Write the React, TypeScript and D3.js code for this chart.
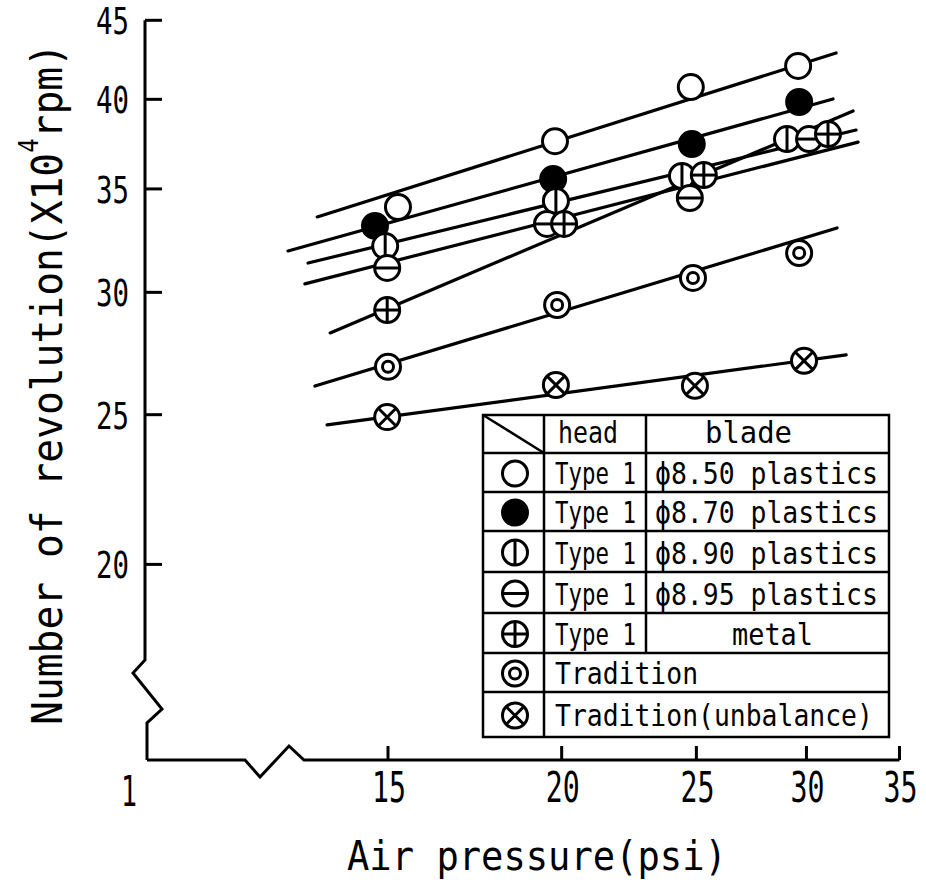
import React from 'react';
import * as d3 from 'd3';

// ---------- data ----------
const xTickValues = [15, 20, 25, 30, 35];
const xBreakLabel = '1';
const yTickValues = [20, 25, 30, 35, 40, 45];
const xTitle = 'Air pressure(psi)';
const yTitleMain = 'Number of revolution(X10';
const yTitleSup = '4';
const yTitleEnd = 'rpm)';

const legendHeadTitle = 'head';
const legendBladeTitle = 'blade';
const seriesHeads = ['Type 1', 'Type 1', 'Type 1', 'Type 1', 'Type 1', 'Tradition', 'Tradition(unbalance)'];
const seriesBlades = ['ϕ8.50 plastics', 'ϕ8.70 plastics', 'ϕ8.90 plastics', 'ϕ8.95 plastics', 'metal', '', ''];
const seriesMarkers = ['open', 'filled', 'vbar', 'hbar', 'plus', 'double', 'cross'];

const p50X = [15.25, 19.78, 24.77, 29.59];
const p50Y = [34.07, 37.58, 40.74, 42.04];
const p50Fit = [[13.34, 33.57], [31.51, 42.86]];

const p70X = [14.68, 19.72, 24.81, 29.64];
const p70Y = [33.12, 35.52, 37.42, 39.84];
const p70Fit = [[12.71, 31.91], [31.35, 40.02]];

const p90X = [14.93, 19.81, 24.41, 29.05];
const p90Y = [32.14, 34.38, 35.68, 37.7];
const p90Fit = [[13.14, 31.34], [32.57, 38.21]];

const p95X = [14.98, 19.52, 24.73, 30.13];
const p95Y = [31.11, 33.22, 34.53, 37.7];
const p95Fit = [[13.07, 30.38], [32.68, 37.53]];

const metalX = [14.98, 20.08, 25.31, 31.09];
const metalY = [29.22, 33.22, 35.73, 37.98];
const metalFit = [[13.63, 28.24], [32.41, 39.31]];

const tradX = [15.0, 19.85, 24.86, 29.64];
const tradY = [26.85, 29.44, 30.65, 31.81];
const tradFit = [[13.29, 26.09], [31.56, 33.02]];

const unbalX = [14.98, 19.81, 24.94, 29.88];
const unbalY = [24.91, 26.13, 26.1, 27.09];
const unbalFit = [[13.56, 24.62], [32.04, 27.33]];

const seriesX = [p50X, p70X, p90X, p95X, metalX, tradX, unbalX];
const seriesY = [p50Y, p70Y, p90Y, p95Y, metalY, tradY, unbalY];
const seriesFit = [p50Fit, p70Fit, p90Fit, p95Fit, metalFit, tradFit, unbalFit];

// ---------- layout ----------
const W = 926;
const H = 883;
const FONT = '"DejaVu Sans Mono", monospace';
const ADV = 0.602; // DejaVu Sans Mono advance per em
const axisLeft = 145;
const axisBottom = 760;
const R = 12.5;

const xScale = d3.scaleLog().domain([15, 35]).range([388, 899.5]);
const yScale = d3.scaleLog().domain([20, 45]).range([564.4, 20.3]);

const legLeft = 483;
const legRight = 889;
const legCol1 = 544;
const legCol2 = 646;
const legRows = [415, 453, 492, 531, 572, 613, 653, 692, 737];

// text squeezed horizontally to a target width
function NText({
  x,
  y,
  width,
  fontSize,
  anchor = 'start',
  children,
}: {
  x: number;
  y: number;
  width: number;
  fontSize: number;
  anchor?: string;
  children: string;
}) {
  const natural = children.length * ADV * fontSize;
  const sx = width / natural;
  return (
    <text transform={`translate(${x},${y}) scale(${sx.toFixed(4)},1)`} fontSize={fontSize} textAnchor={anchor}>
      {children}
    </text>
  );
}

function Marker({ type, cx, cy }: { type: string; cx: number; cy: number }) {
  const sw = 3;
  const d = R * 0.7071;
  return (
    <g transform={`translate(${cx},${cy})`} stroke="#000" strokeWidth={sw}>
      <circle r={R} fill={type === 'filled' ? '#000' : '#fff'} />
      {(type === 'vbar' || type === 'plus') && <line x1={0} y1={-R} x2={0} y2={R} />}
      {(type === 'hbar' || type === 'plus') && <line x1={-R} y1={0} x2={R} y2={0} />}
      {type === 'double' && <circle r={5.5} fill="#fff" />}
      {type === 'cross' && (
        <>
          <line x1={-d} y1={-d} x2={d} y2={d} />
          <line x1={-d} y1={d} x2={d} y2={-d} />
        </>
      )}
    </g>
  );
}

export default function App() {
  const lineGen = d3
    .line<number[]>()
    .x((p) => xScale(p[0]))
    .y((p) => yScale(p[1]));

  const yAxisPath = d3.line()([
    [axisLeft, yScale(45)],
    [axisLeft, 660],
    [133, 673],
    [162, 709],
    [147, 723],
    [147, axisBottom],
  ] as [number, number][]);
  const xAxisPath = d3.line()([
    [147, axisBottom],
    [245, axisBottom],
    [260, 777],
    [289, 746],
    [304, axisBottom],
    [xScale(35), axisBottom],
  ] as [number, number][]);

  const yTitleFs = 43;
  const yTitleWidth = 682;
  const yNatural = (yTitleMain.length + yTitleEnd.length) * ADV * yTitleFs + ADV * 26;
  const ySx = yTitleWidth / yNatural;

  return (
    <svg
      width={W}
      height={H}
      viewBox={`0 0 ${W} ${H}`}
      style={{ position: 'absolute', left: 0, top: 0, background: '#fff' }}
      fontFamily={FONT}
    >
      <rect x={0} y={0} width={W} height={H} fill="#fff" />

      {/* axes */}
      <path d={yAxisPath || ''} fill="none" stroke="#000" strokeWidth={3} strokeLinejoin="miter" />
      <path d={xAxisPath || ''} fill="none" stroke="#000" strokeWidth={3} strokeLinejoin="miter" />
      {yTickValues.map((v) => (
        <g key={`yt${v}`}>
          <line x1={axisLeft} x2={axisLeft + 17} y1={yScale(v)} y2={yScale(v)} stroke="#000" strokeWidth={3} />
          <NText x={129} y={yScale(v) + 14} width={33} fontSize={38} anchor="end">
            {String(v)}
          </NText>
        </g>
      ))}
      {xTickValues.map((v) => (
        <g key={`xt${v}`}>
          <line x1={xScale(v)} x2={xScale(v)} y1={axisBottom} y2={axisBottom - 14} stroke="#000" strokeWidth={3} />
          <NText x={xScale(v) + 1} y={802} width={34} fontSize={42} anchor="middle">
            {String(v)}
          </NText>
        </g>
      ))}
      <NText x={129} y={806} width={16} fontSize={42} anchor="middle">
        {xBreakLabel}
      </NText>

      {/* titles */}
      <NText x={347} y={870} width={380} fontSize={40}>
        {xTitle}
      </NText>
      <text
        transform={`translate(62,384) rotate(-90) scale(${ySx.toFixed(4)},1)`}
        fontSize={yTitleFs}
        textAnchor="middle"
      >
        {yTitleMain}
        <tspan fontSize={26} dy={-24}>
          {yTitleSup}
        </tspan>
        <tspan fontSize={yTitleFs} dy={24}>
          {yTitleEnd}
        </tspan>
      </text>

      {/* regression lines */}
      {seriesFit.map((f, i) => (
        <path key={`fit${i}`} d={lineGen(f) || ''} fill="none" stroke="#000" strokeWidth={3.2} strokeLinecap="round" />
      ))}

      {/* markers */}
      {seriesX.map((xs, i) =>
        xs.map((xv, j) => (
          <Marker key={`m${i}-${j}`} type={seriesMarkers[i]} cx={xScale(xv)} cy={yScale(seriesY[i][j])} />
        ))
      )}

      {/* legend table */}
      <g stroke="#000" strokeWidth={2.5} fill="none">
        <rect
          x={legLeft}
          y={legRows[0]}
          width={legRight - legLeft}
          height={legRows[legRows.length - 1] - legRows[0]}
          fill="#fff"
        />
        {legRows.slice(1, -1).map((y) => (
          <line key={`lr${y}`} x1={legLeft} x2={legRight} y1={y} y2={y} />
        ))}
        <line x1={legCol1} x2={legCol1} y1={legRows[0]} y2={legRows[legRows.length - 1]} />
        <line x1={legCol2} x2={legCol2} y1={legRows[0]} y2={legRows[6]} />
        <line x1={legLeft} y1={legRows[0]} x2={legCol1} y2={legRows[1]} />
      </g>
      <NText x={558} y={legRows[1] - 10} width={60} fontSize={31}>
        {legendHeadTitle}
      </NText>
      <NText x={705} y={legRows[1] - 10} width={87} fontSize={31}>
        {legendBladeTitle}
      </NText>
      {seriesMarkers.map((m, i) => {
        const top = legRows[i + 1];
        const bottom = legRows[i + 2];
        const head = seriesHeads[i];
        const blade = seriesBlades[i];
        const headLen = head === 'Type 1' ? 81 : head.length * 15.9;
        const base = i === 6 ? bottom - 11 : bottom - 8;
        return (
          <g key={`leg${i}`}>
            <Marker type={m} cx={515} cy={(top + bottom) / 2 + 1} />
            <NText x={555} y={base} width={headLen} fontSize={31}>
              {head}
            </NText>
            {blade && (
              <NText x={blade === 'metal' ? 732 : 655} y={base} width={blade === 'metal' ? 81 : 223} fontSize={31}>
                {blade}
              </NText>
            )}
          </g>
        );
      })}
    </svg>
  );
}
